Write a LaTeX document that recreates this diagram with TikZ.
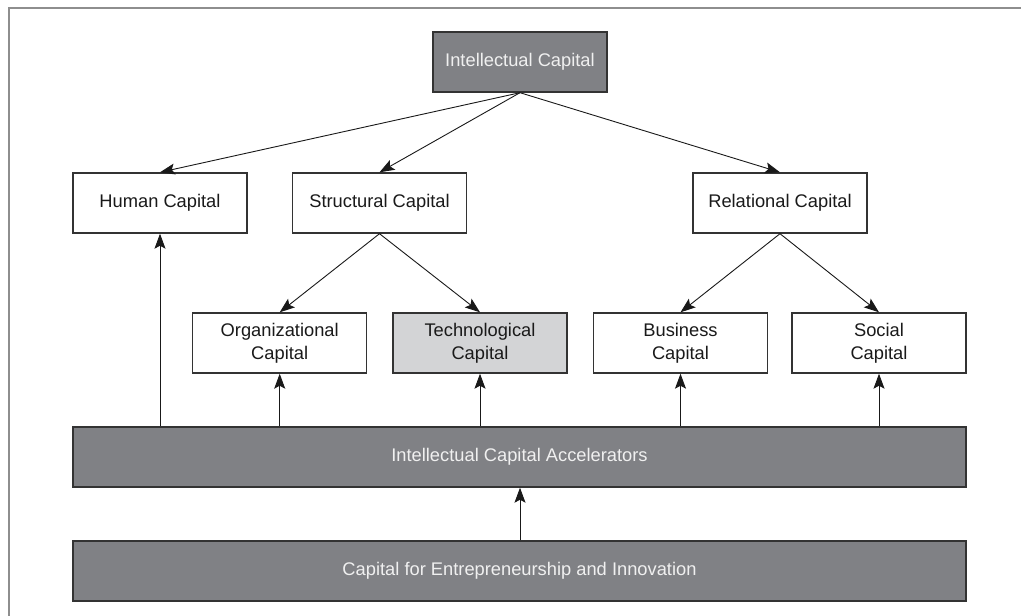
\documentclass[tikz,border=0pt]{standalone}
\usepackage{fontspec}
\setmainfont{Liberation Sans}
\usetikzlibrary{arrows.meta}
\definecolor{darkbox}{HTML}{808185}
\definecolor{lightbox}{HTML}{D3D4D6}
\definecolor{edgec}{HTML}{333333}
\definecolor{framec}{HTML}{8E8E8E}
\definecolor{txt}{HTML}{1A1A1A}
\begin{document}
\begin{tikzpicture}[x=1pt,y=-1pt,
  box/.style={draw=edgec, line width=1.4pt, fill=white, text=txt, minimum height=60pt,
    inner sep=0pt, align=center, font=\fontsize{18.3}{23}\selectfont},
  sbox/.style={box, minimum width=174pt},
  dbox/.style={box, fill=darkbox, text=white!94!black},
  lbox/.style={sbox, fill=lightbox},
  arr/.style={draw=black!90, line width=0.9pt, -{Stealth[length=15pt,width=11pt,inset=3pt]}}
]
\useasboundingbox (0,0) rectangle (1021,616);
\draw[framec, line width=1.8pt] (9,616) -- (9,8) -- (1021,8);

\node[dbox, minimum width=174pt] (ic) at (520,62) {Intellectual Capital};
\node[sbox] (hum) at (160,203) {Human Capital};
\node[sbox] (str) at (379.5,203) {Structural Capital};
\node[sbox] (rel) at (780,203) {Relational Capital};
\node[sbox] (org) at (279.7,343) {Organizational\\Capital};
\node[lbox] (tech) at (480,343) {Technological\\Capital};
\node[sbox] (bus) at (680.5,343) {Business\\Capital};
\node[sbox] (soc) at (879,343) {Social\\Capital};
\node[dbox, minimum width=893pt] (acc) at (519.5,457) {Intellectual Capital Accelerators};
\node[dbox, minimum width=893pt] (cei) at (519.5,571) {Capital for Entrepreneurship and Innovation};

\draw[arr] (ic.south) -- (hum.north);
\draw[arr] (ic.south) -- (str.north);
\draw[arr] (ic.south) -- (rel.north);
\draw[arr] (str.south) -- (org.north);
\draw[arr] (str.south) -- (tech.north);
\draw[arr] (rel.south) -- (bus.north);
\draw[arr] (rel.south) -- (soc.north);

\draw[arr] (acc.north -| hum.south) -- (hum.south);
\draw[arr] (acc.north -| org.south) -- (org.south);
\draw[arr] (acc.north -| tech.south) -- (tech.south);
\draw[arr] (acc.north -| bus.south) -- (bus.south);
\draw[arr] (acc.north -| soc.south) -- (soc.south);
\draw[arr] (cei.north -| 520,0) -- (acc.south -| 520,0);
\end{tikzpicture}
\end{document}
